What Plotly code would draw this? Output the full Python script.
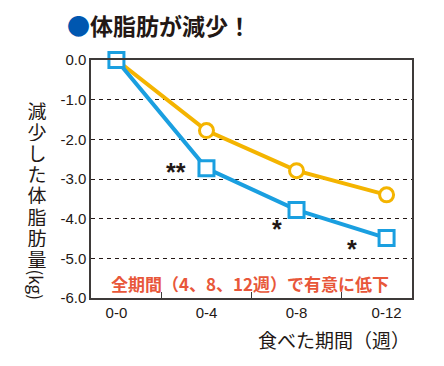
import plotly.graph_objects as go

categories = ["0-0", "0-4", "0-8", "0-12"]
control_vals = [0.0, -1.78, -2.79, -3.40]
test_vals = [0.0, -2.73, -3.78, -4.49]
y_ticks = [0, -1, -2, -3, -4, -5, -6]
y_ticklabels = ["0.0", "-1.0", "-2.0", "-3.0", "-4.0", "-5.0", "-6.0"]
sig_marks = ["", "**", "*", "*"]
y_title_chars = ["減", "少", "し", "た", "体", "脂", "肪", "量"]

JP = "Noto Sans CJK JP"
NUM = "Liberation Sans, Arial"

PW, PH = 321.0, 238.0  # plot area size in px

fig = go.Figure()
fig.add_trace(go.Scatter(
    x=categories, y=control_vals, mode="lines+markers",
    line=dict(color="#f4b400", width=4),
    marker=dict(symbol="circle", size=14, color="white", line=dict(color="#f4b400", width=3)),
    cliponaxis=False, showlegend=False))
fig.add_trace(go.Scatter(
    x=categories, y=test_vals, mode="lines+markers",
    line=dict(color="#1a9fe0", width=4),
    marker=dict(symbol="square", size=15, color="white", line=dict(color="#1a9fe0", width=3)),
    cliponaxis=False, showlegend=False))

# significance asterisks
shifts = [(0, 0), (-30, -4), (-20, -19), (-35, -11)]
for i, m in enumerate(sig_marks):
    if not m:
        continue
    fig.add_annotation(x=categories[i], y=test_vals[i], text="<b>" + m + "</b>", showarrow=False,
                       xshift=shifts[i][0], yshift=shifts[i][1],
                       font=dict(family=NUM, size=25, color="#231815"))

# title
fig.add_annotation(xref="paper", yref="paper", x=(65 - 91) / PW, y=1.0, yshift=35,
                   xanchor="left", yanchor="middle", showarrow=False,
                   text="<span style='color:#0057b0'>●</span><b>体脂肪が減少！</b>",
                   font=dict(family=JP, size=23, color="#231815"))

# vertical y-axis title, one upright character per position
top_px = 110
xc = (36.5 - 91) / PW
for k, ch in enumerate(y_title_chars):
    ypx = top_px + k * 21.1
    fig.add_annotation(xref="paper", yref="paper", x=xc, y=(298 - ypx) / PH,
                       xanchor="center", yanchor="middle", showarrow=False,
                       width=22, height=20,
                       text=ch, font=dict(family=JP, size=19, color="#231815"))
fig.add_annotation(xref="paper", yref="paper", x=xc, y=(298 - 285) / PH,
                   xanchor="center", yanchor="middle", showarrow=False, textangle=90,
                   text="(kg)", font=dict(family=JP, size=17, color="#231815"))

# significance note
fig.add_annotation(xref="paper", yref="paper", x=(250 - 91) / PW, y=(298 - 283) / PH,
                   xanchor="center", yanchor="middle", showarrow=False,
                   text="<b>全期間（4、8、12週）で有意に低下</b>",
                   font=dict(family=JP, size=17, color="#e8573a"))

# x-axis title
fig.add_annotation(xref="paper", yref="paper", x=1.0, y=0, yshift=-41,
                   xanchor="right", yanchor="middle", showarrow=False,
                   text="食べた期間（週）", font=dict(family=JP, size=19, color="#231815"))

fig.update_layout(
    width=436, height=358,
    margin=dict(l=83, r=32, t=52, b=68),
    plot_bgcolor="white", paper_bgcolor="white",
    xaxis=dict(type="category", tickson="boundaries", ticks="inside", ticklen=6,
               tickcolor="#3e3a39", showgrid=False, showline=True, mirror=True,
               linecolor="#3e3a39", linewidth=1.5,
               tickfont=dict(family=NUM, size=15, color="#231815"), fixedrange=True),
    yaxis=dict(range=[-6, 0], tickvals=y_ticks, ticktext=y_ticklabels,
               showgrid=True, gridcolor="#231815", griddash="4px,4px", gridwidth=1,
               showline=True, mirror=True, linecolor="#3e3a39", linewidth=1.5,
               zeroline=False, ticks="", ticklen=0,
               tickfont=dict(family=NUM, size=15, color="#231815"), fixedrange=True),
)

fig.write_html("out.html")
